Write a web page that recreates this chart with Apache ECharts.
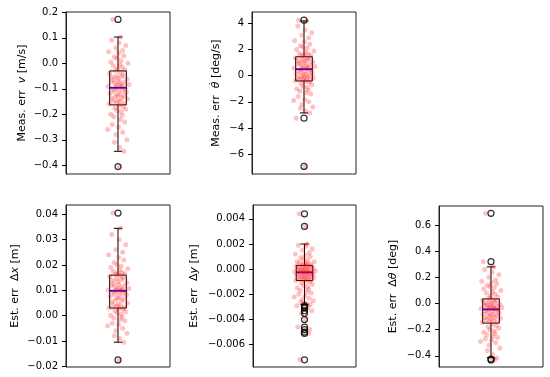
<!DOCTYPE html>
<html><head><meta charset="utf-8">
<script src="https://cdn.jsdelivr.net/npm/echarts@6/dist/echarts.min.js"></script>
<style>html,body{margin:0;padding:0;background:#fff}#c{width:550px;height:377px}</style>
</head><body><div id="c"></div>
<script>
// horizontal jitter of the scatter points (fraction of half panel width)
const jitter = [0.05,-0.12,0.02,0.15,-0.04,0.09,-0.18,0.01,0.11,-0.07,
-0.02,0.06,-0.14,0.19,0.03,-0.09,0.08,-0.01,0.13,-0.05,
0.04,-0.16,0.1,-0.03,0.07,-0.11,0.0,0.17,-0.08,0.02,
-0.13,0.12,-0.06,0.04,0.21,-0.02,0.08,-0.19,0.06,-0.04,
0.14,-0.1,0.01,0.09,-0.07,0.16,-0.15,0.03,-0.01,0.11,
-0.05,0.07,-0.12,0.18,0.0,-0.09,0.05,-0.03,0.12,-0.17,
0.02,0.1,-0.06,0.15,-0.02,0.06,-0.14,0.08,-0.08,0.04,
0.13,-0.11,0.01,-0.2,0.09,-0.04,0.17,-0.07,0.03,0.11,
-0.1,0.02,-0.15,0.07,-0.01,0.14,-0.06,0.02,-0.13,0.1,
-0.03,0.08,-0.09,0.16,0.0];

// Panel 1: Meas. err v [m/s]
const vValues = [0.103,0.09,0.08,0.07,0.06,0.05,0.045,0.04,0.03,0.025,0.02,0.01,0.005,0.0,-0.005,-0.01,-0.015,-0.02,-0.025,-0.028,
-0.035,-0.04,-0.045,-0.05,-0.052,-0.055,-0.06,-0.062,-0.065,-0.07,-0.072,-0.075,-0.078,-0.08,-0.083,-0.085,-0.088,-0.09,-0.092,-0.095,
-0.1,-0.102,-0.105,-0.108,-0.11,-0.115,-0.118,-0.12,-0.125,-0.128,-0.13,-0.135,-0.138,-0.14,-0.145,-0.148,-0.15,-0.155,-0.158,-0.16,
-0.165,-0.17,-0.175,-0.18,-0.185,-0.19,-0.2,-0.205,-0.21,-0.22,-0.23,-0.24,-0.25,-0.26,-0.27,-0.28,-0.3,-0.31,-0.33,-0.345,
0.172,-0.405];
const vBox = [-0.345,-0.163,-0.096,-0.03,0.103];
const vOutliers = [0.172,-0.405];
const vTicks = [-0.4,-0.3,-0.2,-0.1,0.0,0.1,0.2];

// Panel 2: Meas. err theta-dot [deg/s]
const wValues = [4.2,3.8,3.5,3.3,3.1,2.9,2.7,2.6,2.4,2.3,2.2,2.1,2.0,1.9,1.8,1.7,1.65,1.6,1.55,1.5,
1.4,1.35,1.3,1.25,1.2,1.15,1.1,1.05,1.0,0.95,0.9,0.85,0.8,0.75,0.7,0.65,0.6,0.58,0.55,0.52,
0.45,0.4,0.35,0.3,0.25,0.2,0.15,0.1,0.05,0.0,-0.05,-0.1,-0.15,-0.18,-0.2,-0.25,-0.28,-0.3,-0.35,-0.38,
-0.45,-0.5,-0.6,-0.7,-0.8,-0.9,-1.0,-1.1,-1.2,-1.3,-1.4,-1.6,-1.8,-1.9,-2.0,-2.2,-2.4,-2.5,-2.7,-2.85,
4.25,-6.95,-3.25];
const wBox = [-2.85,-0.4,0.5,1.45,4.2];
const wOutliers = [4.25,-3.25,-6.95];
const wTicks = [-6,-4,-2,0,2,4];

// Panel 3: Est. err dx [m]
const xValues = [0.0345,0.032,0.03,0.028,0.026,0.025,0.024,0.023,0.022,0.021,0.02,0.0195,0.019,0.0185,0.018,0.0175,0.017,0.0168,0.0165,0.0162,
0.0158,0.0155,0.015,0.0147,0.0143,0.014,0.0135,0.013,0.0127,0.0123,0.012,0.0117,0.0113,0.011,0.0107,0.0105,0.0103,0.0101,0.01,0.0099,
0.0096,0.0093,0.009,0.0087,0.0083,0.008,0.0077,0.0073,0.007,0.0066,0.0062,0.0058,0.0054,0.005,0.0046,0.0042,0.0039,0.0036,0.0033,0.0031,
0.0028,0.0025,0.002,0.0015,0.001,0.0005,0.0,-0.0005,-0.001,-0.0015,-0.002,-0.003,-0.0035,-0.004,-0.005,-0.006,-0.007,-0.008,-0.009,-0.0105,
0.0405,-0.0175];
const xBox = [-0.0105,0.003,0.0098,0.016,0.0345];
const xOutliers = [0.0405,-0.0175];
const xTicks = [-0.02,-0.01,0.0,0.01,0.02,0.03,0.04];

// Panel 4: Est. err dy [m]
const yValues = [0.002,0.0019,0.0018,0.0016,0.0015,0.0013,0.0012,0.0011,0.001,0.0009,0.0008,0.0007,0.0006,0.0006,0.0005,0.0005,0.0004,0.0004,0.00035,0.00032,
0.00028,0.00025,0.0002,0.00018,0.00015,0.0001,0.00008,0.00005,0.0,-0.00002,-0.00005,-0.00008,-0.0001,-0.00012,-0.00015,-0.00017,-0.0002,-0.00021,-0.00023,-0.00024,
-0.00027,-0.0003,-0.00033,-0.00036,-0.0004,-0.00043,-0.00046,-0.0005,-0.00053,-0.00056,-0.0006,-0.00063,-0.00066,-0.0007,-0.00073,-0.00076,-0.0008,-0.00083,-0.00086,-0.00089,
-0.00093,-0.001,-0.0011,-0.0012,-0.0013,-0.0014,-0.0015,-0.0016,-0.0017,-0.0018,-0.0019,-0.002,-0.0021,-0.0022,-0.0023,-0.0024,-0.0025,-0.0026,-0.0027,-0.0028,
0.0044,0.0034,-0.0029,-0.003,-0.0031,-0.0033,-0.0035,-0.004,-0.0046,-0.0048,-0.005,-0.0051,-0.0072];
const yBox = [-0.0028,-0.0009,-0.00025,0.0003,0.002];
const yOutliers = [0.0044,0.0034,-0.0029,-0.003,-0.0031,-0.0033,-0.0035,-0.004,-0.0046,-0.0048,-0.005,-0.0051,-0.0072];
const yTicks = [-0.006,-0.004,-0.002,0.0,0.002,0.004];

// Panel 5: Est. err dtheta [deg]
const tValues = [0.28,0.26,0.24,0.22,0.2,0.18,0.17,0.16,0.15,0.14,0.13,0.12,0.11,0.1,0.09,0.08,0.07,0.06,0.05,0.04,
0.03,0.025,0.02,0.015,0.01,0.005,0.0,-0.005,-0.01,-0.013,-0.016,-0.02,-0.023,-0.026,-0.03,-0.033,-0.036,-0.039,-0.041,-0.043,
-0.05,-0.055,-0.06,-0.065,-0.07,-0.075,-0.08,-0.085,-0.09,-0.095,-0.1,-0.105,-0.11,-0.115,-0.12,-0.125,-0.13,-0.135,-0.14,-0.145,
-0.16,-0.17,-0.18,-0.19,-0.2,-0.21,-0.22,-0.23,-0.24,-0.25,-0.26,-0.27,-0.28,-0.29,-0.3,-0.32,-0.34,-0.36,-0.39,-0.415,
0.69,-0.425,0.32,-0.432];
const tBox = [-0.415,-0.15,-0.045,0.035,0.28];
const tOutliers = [0.69,0.32,-0.425,-0.432];
const tTicks = [-0.4,-0.2,0.0,0.2,0.4,0.6];

const FONT = 'DejaVu Sans';
const BOXW = 0.16, CAPW = 0.08;

const panels = [
  {vals:vValues, box:vBox, out:vOutliers, ticks:vTicks, dec:1, ylim:[-0.434,0.201],
   grid:{left:66,top:12,width:104,height:162}, gap:38,
   name:'{n|Meas. err  }{i|v}{n| [m/s]}'},
  {vals:wValues, box:wBox, out:wOutliers, ticks:wTicks, dec:0, ylim:[-7.53,4.88],
   grid:{left:252,top:12,width:104,height:162}, gap:30,
   name:'{n|Meas. err  }{i|θ̇}{n| [deg/s]}'},
  {vals:xValues, box:xBox, out:xOutliers, ticks:xTicks, dec:2, ylim:[-0.0203,0.0437],
   grid:{left:66,top:205,width:104,height:162}, gap:45,
   name:'{n|Est. err  Δ}{i|x}{n| [m]}'},
  {vals:yValues, box:yBox, out:yOutliers, ticks:yTicks, dec:3, ylim:[-0.00777,0.0051],
   grid:{left:253,top:205,width:103,height:162}, gap:53,
   name:'{n|Est. err  Δ}{i|y}{n| [m]}'},
  {vals:tValues, box:tBox, out:tOutliers, ticks:tTicks, dec:1, ylim:[-0.486,0.746],
   grid:{left:439,top:206,width:104,height:161}, gap:40,
   name:'{n|Est. err  Δ}{i|θ}{n| [deg]}'}
];

const option = {backgroundColor:'#fff', animation:false, grid:[], xAxis:[], yAxis:[], series:[]};
panels.forEach((p,i)=>{
  option.grid.push(Object.assign({show:true, borderColor:'#222', borderWidth:1, backgroundColor:'transparent'}, p.grid));
  option.xAxis.push({gridIndex:i, type:'value', min:-1, max:1, show:false});
  option.yAxis.push({gridIndex:i, type:'value', min:p.ylim[0], max:p.ylim[1],
    axisLine:{show:true, onZero:false, lineStyle:{color:'#222', width:1}},
    axisTick:{show:true, length:4, customValues:p.ticks, lineStyle:{color:'#000'}},
    axisLabel:{customValues:p.ticks, color:'#000', fontSize:10, fontFamily:FONT, margin:8,
      formatter:(v)=>Number(v).toFixed(p.dec).replace('-','\u2212').replace(/^\u22120(\.0+)?$/,'0$1')},
    splitLine:{show:false},
    name:p.name, nameLocation:'middle', nameRotate:90, nameGap:p.gap,
    nameTextStyle:{color:'#000', fontSize:11, fontFamily:FONT,
      rich:{n:{fontSize:11, fontFamily:FONT, color:'#000'}, i:{fontSize:11, fontFamily:FONT, fontStyle:'italic', color:'#000'}}}
  });
  option.series.push({type:'scatter', xAxisIndex:i, yAxisIndex:i, symbol:'circle', symbolSize:5,
    itemStyle:{color:'rgba(255,0,0,0.3)'}, silent:true,
    data:p.vals.map((v,k)=>[jitter[k], v])});
  option.series.push({type:'custom', xAxisIndex:i, yAxisIndex:i, silent:true,
    data:[p.box],
    renderItem:(params, api)=>{
      const lo=api.value(0), q1=api.value(1), md=api.value(2), q3=api.value(3), hi=api.value(4);
      const tl=api.coord([-BOXW,q3]), br=api.coord([BOXW,q1]);
      const c=api.coord([0,0])[0];
      const cl=api.coord([-CAPW,0])[0], cr=api.coord([CAPW,0])[0];
      const yLo=api.coord([0,lo])[1], yHi=api.coord([0,hi])[1], yMd=api.coord([0,md])[1];
      const ls={stroke:'#000', lineWidth:1};
      return {type:'group', children:[
        {type:'line', shape:{x1:c,y1:br[1],x2:c,y2:yLo}, style:ls},
        {type:'line', shape:{x1:c,y1:tl[1],x2:c,y2:yHi}, style:ls},
        {type:'line', shape:{x1:cl,y1:yLo,x2:cr,y2:yLo}, style:ls},
        {type:'line', shape:{x1:cl,y1:yHi,x2:cr,y2:yHi}, style:ls},
        {type:'rect', shape:{x:tl[0],y:tl[1],width:br[0]-tl[0],height:br[1]-tl[1]}, style:{fill:null, stroke:'#000', lineWidth:1}},
        {type:'line', shape:{x1:tl[0],y1:yMd,x2:br[0],y2:yMd}, style:{stroke:'#0000ff', lineWidth:1.8}}
      ]};
    }});
  option.series.push({type:'scatter', xAxisIndex:i, yAxisIndex:i, symbol:'circle', symbolSize:6, silent:true,
    itemStyle:{color:'rgba(0,0,0,0)', borderColor:'#000', borderWidth:1.2},
    data:p.out.map(v=>[0,v])});
});
echarts.init(document.getElementById('c'), null, {renderer:'canvas'}).setOption(option);
</script>
</body></html>
